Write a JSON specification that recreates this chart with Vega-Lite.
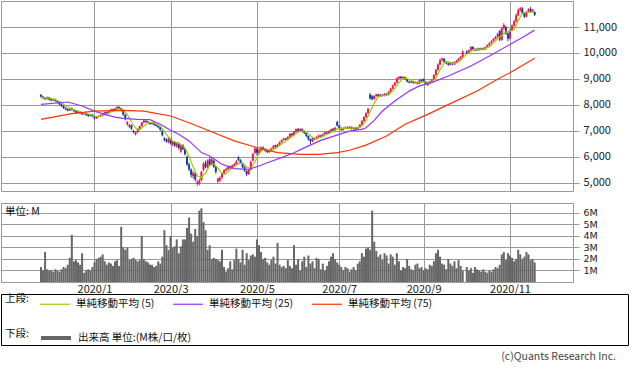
{
"$schema": "https://vega.github.io/schema/vega-lite/v6.json",
"padding": 0,
"background": "white",
"bounds": "flush",
"spacing": 12,
"config": {
  "font": "Noto Sans CJK JP",
  "view": {"stroke": "#999", "strokeWidth": 1},
  "axis": {"labelFont": "Noto Sans CJK JP", "labelFontSize": 11, "labelColor": "#222", "gridColor": "#999", "gridOpacity": 1, "tickColor": "#999", "domain": false, "title": null, "labelOverlap": false},
  "legend": {"labelFont": "Noto Sans CJK JP", "titleFont": "Noto Sans CJK JP", "labelFontSize": 10.5, "titleFontSize": 10.5, "titleFontWeight": "normal", "labelColor": "#111", "titleColor": "#111"}
},
"datasets": {
"k": [
{"i":0,"o":8380,"h":8420,"l":8280,"c":8320,"v":1.3},
{"i":1,"o":8320,"h":8350,"l":8220,"c":8250,"v":1.0},
{"i":2,"o":8270,"h":8300,"l":8190,"c":8220,"v":2.6},
{"i":3,"o":8220,"h":8320,"l":8200,"c":8290,"v":1.1},
{"i":4,"o":8290,"h":8310,"l":8170,"c":8200,"v":1.0},
{"i":5,"o":8220,"h":8240,"l":8140,"c":8170,"v":1.0},
{"i":6,"o":8170,"h":8250,"l":8150,"c":8220,"v":0.9},
{"i":7,"o":8220,"h":8240,"l":8120,"c":8150,"v":1.1},
{"i":8,"o":8150,"h":8180,"l":8060,"c":8090,"v":1.0},
{"i":9,"o":8090,"h":8110,"l":7990,"c":8020,"v":0.9},
{"i":10,"o":8020,"h":8050,"l":7920,"c":7950,"v":1.1},
{"i":11,"o":7950,"h":7980,"l":7840,"c":7880,"v":1.3},
{"i":12,"o":7880,"h":7900,"l":7790,"c":7830,"v":1.2},
{"i":13,"o":7840,"h":7860,"l":7750,"c":7780,"v":1.5},
{"i":14,"o":7780,"h":7890,"l":7760,"c":7870,"v":2.1},
{"i":15,"o":7870,"h":7900,"l":7780,"c":7810,"v":4.1},
{"i":16,"o":7810,"h":7830,"l":7720,"c":7760,"v":1.8},
{"i":17,"o":7760,"h":7780,"l":7650,"c":7690,"v":1.9},
{"i":18,"o":7690,"h":7760,"l":7670,"c":7740,"v":1.7},
{"i":19,"o":7740,"h":7760,"l":7650,"c":7680,"v":1.5},
{"i":20,"o":7700,"h":7720,"l":7610,"c":7640,"v":2.5},
{"i":21,"o":7640,"h":7710,"l":7620,"c":7690,"v":0.8},
{"i":22,"o":7690,"h":7700,"l":7580,"c":7610,"v":1.0},
{"i":23,"o":7630,"h":7650,"l":7540,"c":7570,"v":1.1},
{"i":24,"o":7570,"h":7650,"l":7550,"c":7630,"v":1.0},
{"i":25,"o":7630,"h":7650,"l":7530,"c":7560,"v":1.3},
{"i":26,"o":7560,"h":7580,"l":7440,"c":7480,"v":1.7},
{"i":27,"o":7480,"h":7560,"l":7460,"c":7530,"v":2.0},
{"i":28,"o":7530,"h":7590,"l":7510,"c":7570,"v":2.1},
{"i":29,"o":7570,"h":7630,"l":7550,"c":7610,"v":2.2},
{"i":30,"o":7610,"h":7680,"l":7590,"c":7660,"v":2.4},
{"i":31,"o":7660,"h":7740,"l":7640,"c":7720,"v":1.8},
{"i":32,"o":7720,"h":7740,"l":7640,"c":7670,"v":1.5},
{"i":33,"o":7670,"h":7780,"l":7650,"c":7760,"v":1.7},
{"i":34,"o":7760,"h":7850,"l":7740,"c":7830,"v":1.6},
{"i":35,"o":7830,"h":7850,"l":7750,"c":7780,"v":1.4},
{"i":36,"o":7780,"h":7880,"l":7760,"c":7860,"v":1.8},
{"i":37,"o":7860,"h":7950,"l":7840,"c":7920,"v":1.9},
{"i":38,"o":7920,"h":7940,"l":7840,"c":7870,"v":1.4},
{"i":39,"o":7870,"h":7890,"l":7760,"c":7800,"v":4.8},
{"i":40,"o":7800,"h":7810,"l":7580,"c":7620,"v":3.0},
{"i":41,"o":7620,"h":7640,"l":7400,"c":7450,"v":2.8},
{"i":42,"o":7250,"h":7380,"l":7200,"c":7330,"v":3.0},
{"i":43,"o":7150,"h":7260,"l":7100,"c":7220,"v":1.9},
{"i":44,"o":7220,"h":7240,"l":7040,"c":7080,"v":2.0},
{"i":45,"o":7000,"h":7030,"l":6900,"c":6960,"v":2.1},
{"i":46,"o":6880,"h":6980,"l":6820,"c":6950,"v":1.9},
{"i":47,"o":6950,"h":7080,"l":6920,"c":7050,"v":1.8},
{"i":48,"o":7050,"h":7200,"l":7030,"c":7180,"v":1.9},
{"i":49,"o":7180,"h":7340,"l":7160,"c":7320,"v":4.0},
{"i":50,"o":7320,"h":7420,"l":7300,"c":7390,"v":2.0},
{"i":51,"o":7390,"h":7410,"l":7310,"c":7340,"v":1.8},
{"i":52,"o":7360,"h":7380,"l":7280,"c":7310,"v":1.7},
{"i":53,"o":7320,"h":7340,"l":7230,"c":7260,"v":1.5},
{"i":54,"o":7260,"h":7330,"l":7240,"c":7310,"v":1.5},
{"i":55,"o":7310,"h":7330,"l":7200,"c":7230,"v":1.3},
{"i":56,"o":7250,"h":7270,"l":7160,"c":7190,"v":1.4},
{"i":57,"o":7190,"h":7210,"l":7100,"c":7140,"v":1.8},
{"i":58,"o":7140,"h":7160,"l":7000,"c":7040,"v":1.6},
{"i":59,"o":7000,"h":7020,"l":6780,"c":6830,"v":2.2},
{"i":60,"o":6700,"h":6760,"l":6590,"c":6640,"v":4.5},
{"i":61,"o":6660,"h":6720,"l":6540,"c":6590,"v":3.2},
{"i":62,"o":6560,"h":6740,"l":6520,"c":6700,"v":2.8},
{"i":63,"o":6700,"h":6720,"l":6470,"c":6520,"v":4.0},
{"i":64,"o":6480,"h":6620,"l":6420,"c":6570,"v":3.0},
{"i":65,"o":6570,"h":6600,"l":6380,"c":6440,"v":3.1},
{"i":66,"o":6400,"h":6560,"l":6350,"c":6520,"v":3.7},
{"i":67,"o":6520,"h":6560,"l":6280,"c":6340,"v":2.5},
{"i":68,"o":6200,"h":6480,"l":6150,"c":6450,"v":3.1},
{"i":69,"o":6450,"h":6480,"l":6250,"c":6300,"v":3.7},
{"i":70,"o":6300,"h":6350,"l":6050,"c":6100,"v":3.7},
{"i":71,"o":6000,"h":6050,"l":5650,"c":5700,"v":4.7},
{"i":72,"o":5700,"h":5780,"l":5450,"c":5520,"v":5.6},
{"i":73,"o":5500,"h":5550,"l":5200,"c":5300,"v":4.2},
{"i":74,"o":5250,"h":5450,"l":5150,"c":5380,"v":3.5},
{"i":75,"o":5350,"h":5400,"l":5050,"c":5120,"v":4.6},
{"i":76,"o":4950,"h":5100,"l":4880,"c":5020,"v":4.0},
{"i":77,"o":4950,"h":5150,"l":4900,"c":5080,"v":6.2},
{"i":78,"o":5100,"h":5450,"l":5050,"c":5420,"v":6.4},
{"i":79,"o":5500,"h":5800,"l":5450,"c":5720,"v":5.2},
{"i":80,"o":5750,"h":5850,"l":5550,"c":5600,"v":4.5},
{"i":81,"o":5600,"h":5900,"l":5550,"c":5850,"v":2.8},
{"i":82,"o":5900,"h":5960,"l":5650,"c":5700,"v":3.2},
{"i":83,"o":5720,"h":5960,"l":5680,"c":5900,"v":2.0},
{"i":84,"o":5850,"h":5900,"l":5570,"c":5620,"v":2.1},
{"i":85,"o":5600,"h":5650,"l":5350,"c":5420,"v":2.0},
{"i":86,"o":5050,"h":5200,"l":4980,"c":5150,"v":1.9},
{"i":87,"o":5100,"h":5250,"l":5020,"c":5180,"v":1.8},
{"i":88,"o":5200,"h":5400,"l":5150,"c":5350,"v":2.8},
{"i":89,"o":5350,"h":5520,"l":5300,"c":5480,"v":1.3},
{"i":90,"o":5480,"h":5580,"l":5430,"c":5530,"v":0.9},
{"i":91,"o":5530,"h":5660,"l":5480,"c":5620,"v":1.2},
{"i":92,"o":5620,"h":5660,"l":5520,"c":5560,"v":1.8},
{"i":93,"o":5560,"h":5700,"l":5520,"c":5660,"v":1.1},
{"i":94,"o":5660,"h":5760,"l":5630,"c":5720,"v":1.9},
{"i":95,"o":5720,"h":5870,"l":5690,"c":5820,"v":2.9},
{"i":96,"o":5980,"h":6020,"l":5840,"c":5880,"v":2.0},
{"i":97,"o":5880,"h":5900,"l":5720,"c":5760,"v":1.7},
{"i":98,"o":5760,"h":5780,"l":5560,"c":5600,"v":2.8},
{"i":99,"o":5600,"h":5640,"l":5420,"c":5460,"v":1.5},
{"i":100,"o":5450,"h":5470,"l":5250,"c":5330,"v":2.5},
{"i":101,"o":5330,"h":5520,"l":5300,"c":5480,"v":1.9},
{"i":102,"o":5500,"h":5850,"l":5470,"c":5800,"v":2.3},
{"i":103,"o":5850,"h":6150,"l":5820,"c":6100,"v":2.4},
{"i":104,"o":6150,"h":6400,"l":6100,"c":6320,"v":2.2},
{"i":105,"o":6300,"h":6350,"l":6050,"c":6150,"v":3.7},
{"i":106,"o":6150,"h":6300,"l":6100,"c":6250,"v":3.2},
{"i":107,"o":6250,"h":6400,"l":6200,"c":6350,"v":2.6},
{"i":108,"o":6350,"h":6400,"l":6260,"c":6300,"v":2.0},
{"i":109,"o":6300,"h":6330,"l":6190,"c":6230,"v":2.1},
{"i":110,"o":6230,"h":6250,"l":6140,"c":6180,"v":1.7},
{"i":111,"o":6180,"h":6260,"l":6150,"c":6230,"v":1.5},
{"i":112,"o":6230,"h":6350,"l":6210,"c":6320,"v":1.9},
{"i":113,"o":6320,"h":6450,"l":6300,"c":6420,"v":2.2},
{"i":114,"o":6440,"h":6460,"l":6350,"c":6380,"v":1.6},
{"i":115,"o":6380,"h":6500,"l":6360,"c":6470,"v":3.4},
{"i":116,"o":6470,"h":6590,"l":6450,"c":6560,"v":1.5},
{"i":117,"o":6560,"h":6670,"l":6540,"c":6640,"v":1.3},
{"i":118,"o":6640,"h":6730,"l":6620,"c":6700,"v":1.4},
{"i":119,"o":6700,"h":6730,"l":6630,"c":6660,"v":1.2},
{"i":120,"o":6660,"h":6790,"l":6640,"c":6760,"v":1.9},
{"i":121,"o":6760,"h":6910,"l":6740,"c":6880,"v":1.4},
{"i":122,"o":6880,"h":6920,"l":6800,"c":6830,"v":1.2},
{"i":123,"o":6830,"h":6990,"l":6810,"c":6960,"v":3.2},
{"i":124,"o":6960,"h":7090,"l":6940,"c":7060,"v":1.5},
{"i":125,"o":7060,"h":7110,"l":6970,"c":7000,"v":2.0},
{"i":126,"o":7000,"h":7100,"l":6980,"c":7070,"v":1.0},
{"i":127,"o":7070,"h":7090,"l":6940,"c":6980,"v":1.8},
{"i":128,"o":6980,"h":7000,"l":6880,"c":6920,"v":2.2},
{"i":129,"o":6920,"h":6940,"l":6760,"c":6800,"v":1.3},
{"i":130,"o":6800,"h":6820,"l":6620,"c":6680,"v":2.3},
{"i":131,"o":6680,"h":6700,"l":6480,"c":6600,"v":1.6},
{"i":132,"o":6600,"h":6750,"l":6560,"c":6720,"v":1.8},
{"i":133,"o":6720,"h":6740,"l":6640,"c":6680,"v":1.2},
{"i":134,"o":6680,"h":6790,"l":6660,"c":6760,"v":2.1},
{"i":135,"o":6760,"h":6850,"l":6740,"c":6820,"v":2.0},
{"i":136,"o":6820,"h":6850,"l":6750,"c":6780,"v":1.1},
{"i":137,"o":6780,"h":6900,"l":6760,"c":6870,"v":1.6},
{"i":138,"o":6870,"h":6970,"l":6850,"c":6940,"v":1.0},
{"i":139,"o":6940,"h":6960,"l":6870,"c":6900,"v":1.4},
{"i":140,"o":6900,"h":7020,"l":6880,"c":6990,"v":1.8},
{"i":141,"o":6990,"h":7080,"l":6970,"c":7050,"v":2.2},
{"i":142,"o":7080,"h":7100,"l":6980,"c":7010,"v":2.5},
{"i":143,"o":7010,"h":7150,"l":6990,"c":7120,"v":2.0},
{"i":144,"o":7340,"h":7380,"l":7170,"c":7200,"v":1.7},
{"i":145,"o":7200,"h":7220,"l":7060,"c":7100,"v":1.5},
{"i":146,"o":7110,"h":7130,"l":7000,"c":7040,"v":1.3},
{"i":147,"o":7040,"h":7130,"l":7010,"c":7100,"v":1.0},
{"i":148,"o":7100,"h":7170,"l":7070,"c":7140,"v":1.3},
{"i":149,"o":7140,"h":7170,"l":7060,"c":7090,"v":1.2},
{"i":150,"o":7090,"h":7180,"l":7070,"c":7150,"v":0.9},
{"i":151,"o":7150,"h":7170,"l":7050,"c":7080,"v":1.1},
{"i":152,"o":7060,"h":7150,"l":7040,"c":7120,"v":1.3},
{"i":153,"o":7120,"h":7150,"l":7030,"c":7060,"v":1.0},
{"i":154,"o":7060,"h":7160,"l":7040,"c":7130,"v":1.6},
{"i":155,"o":7130,"h":7260,"l":7110,"c":7230,"v":1.8},
{"i":156,"o":7230,"h":7410,"l":7210,"c":7380,"v":2.5},
{"i":157,"o":7380,"h":7560,"l":7350,"c":7530,"v":2.2},
{"i":158,"o":7530,"h":7710,"l":7500,"c":7680,"v":2.9},
{"i":159,"o":7680,"h":7880,"l":7660,"c":7850,"v":3.0},
{"i":160,"o":8400,"h":8450,"l":8200,"c":8250,"v":2.8},
{"i":161,"o":8330,"h":8380,"l":8180,"c":8220,"v":6.2},
{"i":162,"o":8220,"h":8370,"l":8200,"c":8340,"v":3.5},
{"i":163,"o":8340,"h":8430,"l":8310,"c":8400,"v":2.7},
{"i":164,"o":8400,"h":8430,"l":8300,"c":8330,"v":2.2},
{"i":165,"o":8330,"h":8420,"l":8300,"c":8390,"v":2.4},
{"i":166,"o":8390,"h":8420,"l":8320,"c":8350,"v":1.9},
{"i":167,"o":8350,"h":8450,"l":8330,"c":8420,"v":2.5},
{"i":168,"o":8420,"h":8450,"l":8350,"c":8380,"v":2.3},
{"i":169,"o":8380,"h":8530,"l":8360,"c":8500,"v":1.6},
{"i":170,"o":8500,"h":8650,"l":8480,"c":8620,"v":2.4},
{"i":171,"o":8620,"h":8780,"l":8600,"c":8750,"v":2.2},
{"i":172,"o":8750,"h":8880,"l":8730,"c":8850,"v":1.5},
{"i":173,"o":8850,"h":9060,"l":8830,"c":9020,"v":2.5},
{"i":174,"o":9020,"h":9110,"l":9000,"c":9080,"v":1.8},
{"i":175,"o":9080,"h":9110,"l":9000,"c":9030,"v":1.0},
{"i":176,"o":9030,"h":9110,"l":9010,"c":9070,"v":1.3},
{"i":177,"o":9070,"h":9090,"l":8960,"c":8990,"v":1.2},
{"i":178,"o":8990,"h":9010,"l":8870,"c":8900,"v":2.0},
{"i":179,"o":8900,"h":8930,"l":8830,"c":8860,"v":1.4},
{"i":180,"o":8860,"h":8930,"l":8840,"c":8900,"v":1.1},
{"i":181,"o":8900,"h":8920,"l":8810,"c":8840,"v":1.0},
{"i":182,"o":8840,"h":8900,"l":8820,"c":8870,"v":1.5},
{"i":183,"o":8870,"h":8890,"l":8790,"c":8820,"v":1.6},
{"i":184,"o":8820,"h":8990,"l":8800,"c":8960,"v":1.2},
{"i":185,"o":8960,"h":9000,"l":8860,"c":8890,"v":1.3},
{"i":186,"o":8990,"h":9020,"l":8870,"c":8900,"v":1.0},
{"i":187,"o":8900,"h":8920,"l":8790,"c":8820,"v":1.2},
{"i":188,"o":8760,"h":8870,"l":8730,"c":8840,"v":1.1},
{"i":189,"o":8840,"h":8930,"l":8810,"c":8900,"v":1.5},
{"i":190,"o":8900,"h":8990,"l":8880,"c":8960,"v":1.4},
{"i":191,"o":8960,"h":9180,"l":8940,"c":9150,"v":1.8},
{"i":192,"o":9150,"h":9380,"l":9130,"c":9350,"v":2.5},
{"i":193,"o":9350,"h":9600,"l":9330,"c":9550,"v":2.8},
{"i":194,"o":9550,"h":9780,"l":9530,"c":9720,"v":2.2},
{"i":195,"o":9720,"h":9830,"l":9690,"c":9780,"v":1.6},
{"i":196,"o":9780,"h":9800,"l":9620,"c":9660,"v":1.5},
{"i":197,"o":9660,"h":9690,"l":9560,"c":9600,"v":1.1},
{"i":198,"o":9600,"h":9630,"l":9500,"c":9550,"v":2.0},
{"i":199,"o":9550,"h":9650,"l":9520,"c":9620,"v":1.6},
{"i":200,"o":9620,"h":9650,"l":9530,"c":9560,"v":1.4},
{"i":201,"o":9560,"h":9670,"l":9540,"c":9640,"v":1.8},
{"i":202,"o":9640,"h":9730,"l":9620,"c":9700,"v":1.2},
{"i":203,"o":9700,"h":9810,"l":9680,"c":9780,"v":1.9},
{"i":204,"o":9780,"h":9880,"l":9760,"c":9850,"v":1.4},
{"i":205,"o":9850,"h":10100,"l":9830,"c":10060,"v":1.0},
{"i":206,"o":10060,"h":10060,"l":10060,"c":10060,"v":0},
{"i":207,"o":10060,"h":10100,"l":9950,"c":9980,"v":1.3},
{"i":208,"o":9980,"h":10130,"l":9960,"c":10100,"v":1.0},
{"i":209,"o":10100,"h":10260,"l":10080,"c":10230,"v":1.2},
{"i":210,"o":10230,"h":10260,"l":10120,"c":10150,"v":0.8},
{"i":211,"o":10150,"h":10180,"l":10070,"c":10100,"v":1.3},
{"i":212,"o":10100,"h":10200,"l":10080,"c":10170,"v":1.1},
{"i":213,"o":10170,"h":10200,"l":10090,"c":10120,"v":1.0},
{"i":214,"o":10120,"h":10210,"l":10100,"c":10180,"v":0.9},
{"i":215,"o":10180,"h":10210,"l":10110,"c":10140,"v":1.1},
{"i":216,"o":10140,"h":10250,"l":10120,"c":10220,"v":0.9},
{"i":217,"o":10220,"h":10330,"l":10200,"c":10300,"v":0.8},
{"i":218,"o":10300,"h":10410,"l":10280,"c":10380,"v":1.0},
{"i":219,"o":10380,"h":10490,"l":10360,"c":10460,"v":0.9},
{"i":220,"o":10460,"h":10580,"l":10440,"c":10540,"v":1.1},
{"i":221,"o":10540,"h":10660,"l":10520,"c":10620,"v":1.3},
{"i":222,"o":10620,"h":10780,"l":10600,"c":10730,"v":1.2},
{"i":223,"o":10850,"h":10880,"l":10460,"c":10520,"v":1.5},
{"i":224,"o":10500,"h":11000,"l":10470,"c":10950,"v":2.4},
{"i":225,"o":10950,"h":11150,"l":10900,"c":11080,"v":2.6},
{"i":226,"o":11000,"h":11050,"l":10700,"c":10750,"v":1.9},
{"i":227,"o":10750,"h":10800,"l":10450,"c":10560,"v":2.5},
{"i":228,"o":10560,"h":10920,"l":10520,"c":10870,"v":2.3},
{"i":229,"o":10870,"h":11100,"l":10840,"c":11050,"v":2.1},
{"i":230,"o":11050,"h":11280,"l":11020,"c":11220,"v":1.8},
{"i":231,"o":11220,"h":11520,"l":11180,"c":11450,"v":2.0},
{"i":232,"o":11450,"h":11720,"l":11420,"c":11650,"v":2.8},
{"i":233,"o":11650,"h":11770,"l":11600,"c":11720,"v":2.4},
{"i":234,"o":11720,"h":11770,"l":11500,"c":11540,"v":2.0},
{"i":235,"o":11540,"h":11560,"l":11350,"c":11400,"v":2.2},
{"i":236,"o":11400,"h":11620,"l":11370,"c":11580,"v":2.6},
{"i":237,"o":11580,"h":11720,"l":11550,"c":11680,"v":2.4},
{"i":238,"o":11700,"h":11770,"l":11560,"c":11600,"v":1.9},
{"i":239,"o":11600,"h":11700,"l":11570,"c":11660,"v":2.0},
{"i":240,"o":11580,"h":11600,"l":11430,"c":11470,"v":1.7}
],
"ma": [
{"i":0,"k":"5","v":8290},{"i":2,"k":"5","v":8260},{"i":4,"k":"5","v":8256},{"i":6,"k":"5","v":8220},{"i":8,"k":"5","v":8166},{"i":10,"k":"5","v":8086},{"i":12,"k":"5","v":7954},{"i":14,"k":"5","v":7862},{"i":16,"k":"5","v":7810},{"i":18,"k":"5","v":7774},{"i":20,"k":"5","v":7702},{"i":22,"k":"5","v":7672},{"i":24,"k":"5","v":7628},{"i":26,"k":"5","v":7570},{"i":28,"k":"5","v":7554},{"i":30,"k":"5","v":7570},{"i":32,"k":"5","v":7646},{"i":34,"k":"5","v":7728},{"i":36,"k":"5","v":7780},{"i":38,"k":"5","v":7852},{"i":40,"k":"5","v":7814},{"i":42,"k":"5","v":7614},{"i":44,"k":"5","v":7340},{"i":46,"k":"5","v":7108},{"i":48,"k":"5","v":7044},{"i":50,"k":"5","v":7178},{"i":52,"k":"5","v":7308},{"i":54,"k":"5","v":7322},{"i":56,"k":"5","v":7260},{"i":58,"k":"5","v":7182},{"i":60,"k":"5","v":6968},{"i":62,"k":"5","v":6760},{"i":64,"k":"5","v":6604},{"i":66,"k":"5","v":6550},{"i":68,"k":"5","v":6464},{"i":70,"k":"5","v":6342},{"i":72,"k":"5","v":6014},{"i":74,"k":"5","v":5600},{"i":76,"k":"5","v":5268},{"i":78,"k":"5","v":5204},{"i":80,"k":"5","v":5368},{"i":82,"k":"5","v":5658},{"i":84,"k":"5","v":5734},{"i":86,"k":"5","v":5558},{"i":88,"k":"5","v":5344},{"i":90,"k":"5","v":5338},{"i":92,"k":"5","v":5508},{"i":94,"k":"5","v":5618},{"i":96,"k":"5","v":5728},{"i":98,"k":"5","v":5756},{"i":100,"k":"5","v":5606},{"i":102,"k":"5","v":5534},{"i":104,"k":"5","v":5806},{"i":106,"k":"5","v":6124},{"i":108,"k":"5","v":6274},{"i":110,"k":"5","v":6262},{"i":112,"k":"5","v":6252},{"i":114,"k":"5","v":6306},{"i":116,"k":"5","v":6430},{"i":118,"k":"5","v":6550},{"i":120,"k":"5","v":6664},{"i":122,"k":"5","v":6766},{"i":124,"k":"5","v":6898},{"i":126,"k":"5","v":6984},{"i":128,"k":"5","v":7006},{"i":130,"k":"5","v":6890},{"i":132,"k":"5","v":6744},{"i":134,"k":"5","v":6688},{"i":136,"k":"5","v":6752},{"i":138,"k":"5","v":6834},{"i":140,"k":"5","v":6896},{"i":142,"k":"5","v":6978},{"i":144,"k":"5","v":7074},{"i":146,"k":"5","v":7094},{"i":148,"k":"5","v":7116},{"i":150,"k":"5","v":7104},{"i":152,"k":"5","v":7116},{"i":154,"k":"5","v":7108},{"i":156,"k":"5","v":7184},{"i":158,"k":"5","v":7390},{"i":160,"k":"5","v":7738},{"i":162,"k":"5","v":8068},{"i":164,"k":"5","v":8308},{"i":166,"k":"5","v":8362},{"i":168,"k":"5","v":8374},{"i":170,"k":"5","v":8454},{"i":172,"k":"5","v":8620},{"i":174,"k":"5","v":8864},{"i":176,"k":"5","v":9010},{"i":178,"k":"5","v":9014},{"i":180,"k":"5","v":8944},{"i":182,"k":"5","v":8874},{"i":184,"k":"5","v":8878},{"i":186,"k":"5","v":8888},{"i":188,"k":"5","v":8882},{"i":190,"k":"5","v":8884},{"i":192,"k":"5","v":9040},{"i":194,"k":"5","v":9346},{"i":196,"k":"5","v":9612},{"i":198,"k":"5","v":9662},{"i":200,"k":"5","v":9598},{"i":202,"k":"5","v":9614},{"i":204,"k":"5","v":9706},{"i":206,"k":"5","v":9890},{"i":208,"k":"5","v":10010},{"i":210,"k":"5","v":10104},{"i":212,"k":"5","v":10150},{"i":214,"k":"5","v":10144},{"i":216,"k":"5","v":10166},{"i":218,"k":"5","v":10244},{"i":220,"k":"5","v":10380},{"i":222,"k":"5","v":10546},{"i":224,"k":"5","v":10672},{"i":226,"k":"5","v":10806},{"i":228,"k":"5","v":10842},{"i":230,"k":"5","v":10890},{"i":232,"k":"5","v":11248},{"i":234,"k":"5","v":11516},{"i":236,"k":"5","v":11578},{"i":238,"k":"5","v":11560},{"i":240,"k":"5","v":11598},
{"i":0,"k":"25","v":8020},{"i":13,"k":"25","v":8110},{"i":20,"k":"25","v":7955},{"i":26,"k":"25","v":7760},{"i":31,"k":"25","v":7635},{"i":36,"k":"25","v":7530},{"i":40,"k":"25","v":7480},{"i":47,"k":"25","v":7440},{"i":53,"k":"25","v":7430},{"i":58,"k":"25","v":7250},{"i":63,"k":"25","v":7020},{"i":67,"k":"25","v":6865},{"i":72,"k":"25","v":6610},{"i":78,"k":"25","v":6160},{"i":82,"k":"25","v":6030},{"i":88,"k":"25","v":5710},{"i":94,"k":"25","v":5540},{"i":101,"k":"25","v":5515},{"i":106,"k":"25","v":5645},{"i":110,"k":"25","v":5770},{"i":117,"k":"25","v":5965},{"i":123,"k":"25","v":6155},{"i":129,"k":"25","v":6380},{"i":136,"k":"25","v":6630},{"i":145,"k":"25","v":6865},{"i":150,"k":"25","v":6990},{"i":156,"k":"25","v":7058},{"i":158,"k":"25","v":7120},{"i":162,"k":"25","v":7400},{"i":166,"k":"25","v":7763},{"i":172,"k":"25","v":8150},{"i":179,"k":"25","v":8530},{"i":184,"k":"25","v":8730},{"i":190,"k":"25","v":8855},{"i":198,"k":"25","v":9110},{"i":209,"k":"25","v":9500},{"i":218,"k":"25","v":9880},{"i":228,"k":"25","v":10330},{"i":234,"k":"25","v":10600},{"i":240,"k":"25","v":10880},
{"i":0,"k":"75","v":7440},{"i":15,"k":"75","v":7660},{"i":26,"k":"75","v":7760},{"i":39,"k":"75","v":7790},{"i":50,"k":"75","v":7760},{"i":63,"k":"75","v":7570},{"i":72,"k":"75","v":7310},{"i":82,"k":"75","v":6990},{"i":94,"k":"75","v":6610},{"i":104,"k":"75","v":6375},{"i":115,"k":"75","v":6160},{"i":126,"k":"75","v":6095},{"i":135,"k":"75","v":6090},{"i":144,"k":"75","v":6160},{"i":150,"k":"75","v":6250},{"i":158,"k":"75","v":6450},{"i":168,"k":"75","v":6800},{"i":177,"k":"75","v":7250},{"i":188,"k":"75","v":7635},{"i":200,"k":"75","v":8085},{"i":212,"k":"75","v":8535},{"i":222,"k":"75","v":8985},{"i":228,"k":"75","v":9240},{"i":240,"k":"75","v":9800}
]
},
"vconcat": [
{
  "width": 572, "height": 190,
  "encoding": {
    "x": {"field": "i", "type": "quantitative", "scale": {"domain": [-17, 256.2], "nice": false, "zero": false},
          "axis": {"values": [26, 63, 105, 145, 186, 228], "grid": true, "labels": false, "ticks": false}}
  },
  "layer": [
    {
      "data": {"name": "k"},
      "mark": {"type": "rule", "strokeWidth": 1},
      "encoding": {
        "y": {"field": "l", "type": "quantitative", "scale": {"domain": [4680, 12003], "nice": false, "zero": false},
              "axis": {"orient": "right", "values": [5000, 6000, 7000, 8000, 9000, 10000, 11000], "labelExpr": "format(datum.value, ',')", "grid": true, "tickSize": 6, "labelPadding": 4, "labelFontSize": 11, "labelOverlap": false, "labelBound": false}},
        "y2": {"field": "h"},
        "color": {"condition": {"test": "datum.c >= datum.o", "value": "#f2144c"}, "value": "#17409a"}
      }
    },
    {
      "data": {"name": "k"},
      "mark": {"type": "bar", "size": 2},
      "encoding": {
        "y": {"field": "o", "type": "quantitative",
              "axis": {"orient": "right", "values": [5000, 6000, 7000, 8000, 9000, 10000, 11000], "labelExpr": "format(datum.value, ',')", "grid": true, "tickSize": 6, "labelPadding": 4, "labelFontSize": 11, "labelOverlap": false, "labelBound": false}},
        "y2": {"field": "c"},
        "color": {"condition": {"test": "datum.c >= datum.o", "value": "#f2144c"}, "value": "#17409a"}
      }
    },
    {
      "data": {"name": "ma"},
      "mark": {"type": "line", "strokeWidth": 1.2},
      "encoding": {
        "y": {"field": "v", "type": "quantitative",
              "axis": {"orient": "right", "values": [5000, 6000, 7000, 8000, 9000, 10000, 11000], "labelExpr": "format(datum.value, ',')", "grid": true, "tickSize": 6, "labelPadding": 4, "labelFontSize": 11, "labelOverlap": false, "labelBound": false}},
        "color": {"field": "k", "type": "nominal", "scale": {"domain": ["5", "25", "75"], "range": ["#99cc00", "#9933ff", "#ff3300"]}, "legend": null}
      }
    }
  ]
},
{
  "width": 572, "height": 79,
  "title": {"text": "単位: M", "anchor": "start", "orient": "top", "offset": -14, "dx": 4, "fontSize": 10.5, "fontWeight": "normal", "color": "#111", "font": "Noto Sans CJK JP"},
  "data": {"name": "k"},
  "mark": {"type": "bar", "size": 2, "color": "#666666"},
  "encoding": {
    "x": {"field": "i", "type": "quantitative", "scale": {"domain": [-17, 256.2], "nice": false, "zero": false},
          "axis": {"values": [26, 63, 105, 145, 186, 228], "grid": true, "ticks": false, "labelPadding": 1,
                   "labelExpr": "datum.value == 26 ? '2020/1' : datum.value == 63 ? '2020/3' : datum.value == 105 ? '2020/5' : datum.value == 145 ? '2020/7' : datum.value == 186 ? '2020/9' : '2020/11'"}},
    "y": {"field": "v", "type": "quantitative", "scale": {"domain": [0, 6.86], "nice": false},
          "axis": {"orient": "right", "values": [1, 2, 3, 4, 5, 6], "labelExpr": "datum.value + 'M'", "grid": true, "tickSize": 6, "labelPadding": 4, "labelFontSize": 9.5, "labelFont": "DejaVu Sans", "labelOverlap": false}}
  }
},
{
  "width": 627, "height": 51,
  "view": {"stroke": "#000", "strokeWidth": 1},
  "title": {"text": "(c)Quants Research Inc.", "orient": "bottom", "anchor": "end", "offset": 6, "dx": -12, "fontSize": 10.5, "fontWeight": "normal", "color": "#444", "font": "Noto Sans CJK JP"},
  "layer": [
    {
      "data": {"values": [{"s": "単純移動平均 (5)"}, {"s": "単純移動平均 (25)"}, {"s": "単純移動平均 (75)"}]},
      "mark": {"type": "point", "opacity": 0},
      "encoding": {
        "stroke": {"field": "s", "type": "nominal",
          "scale": {"domain": ["単純移動平均 (5)", "単純移動平均 (25)", "単純移動平均 (75)"], "range": ["#99cc00", "#9933ff", "#ff3300"]},
          "legend": {"orient": "none", "legendX": 4, "legendY": -6, "direction": "horizontal", "title": "上段:", "titleOrient": "left", "titleAnchor": "middle", "titleBaseline": "middle", "titlePadding": 10,
                     "symbolType": "stroke", "symbolSize": 900, "symbolStrokeWidth": 1.2, "symbolOpacity": 1, "labelOffset": 5, "columnPadding": 15}}
      }
    },
    {
      "data": {"values": [{"t": "出来高 単位:(M株/口/枚)"}]},
      "mark": {"type": "point", "opacity": 0},
      "encoding": {
        "fill": {"field": "t", "type": "nominal", "scale": {"range": ["#666666"]},
          "legend": {"orient": "none", "legendX": 4, "legendY": 27, "direction": "horizontal", "title": "下段:", "titleOrient": "left", "titleAnchor": "middle", "titleBaseline": "middle", "titlePadding": 10,
                     "symbolType": "stroke", "symbolSize": 900, "symbolStrokeWidth": 4, "symbolStrokeColor": "#666666", "symbolOpacity": 1, "labelOffset": 5}}
      }
    }
  ],
  "resolve": {"scale": {"stroke": "independent", "fill": "independent"}}
}
]
}
